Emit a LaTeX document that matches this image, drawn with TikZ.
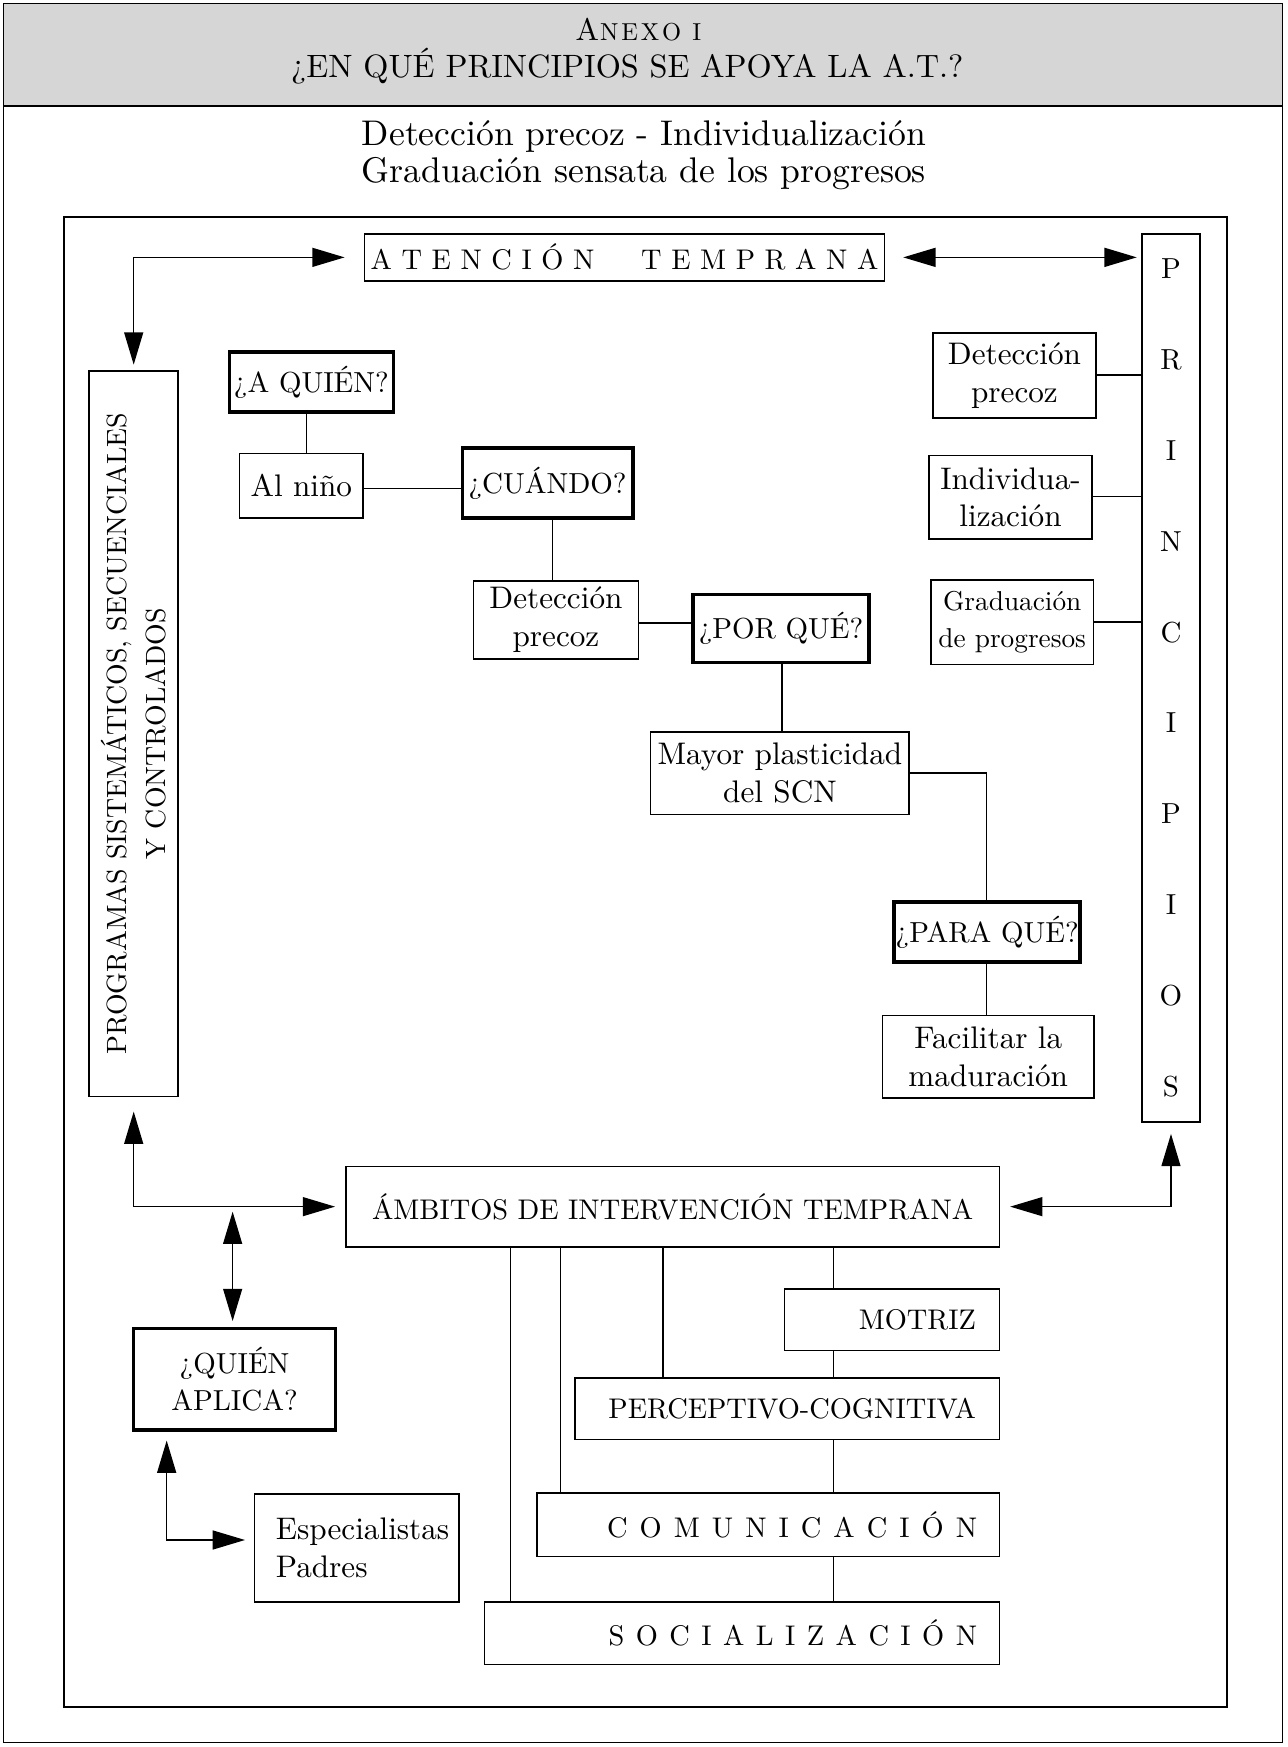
\documentclass[tikz,border=0pt]{standalone}
\usepackage{fontspec}
\setmainfont{lmroman10-regular.otf}
\usetikzlibrary{arrows.meta}
\newcommand\setfs[2]{\fontsize{#1}{#2}\selectfont}
\newcommand\mixf{\setfs{28}{34}}
\newcommand\capf{\setfs{25.5}{33}}
\newcommand\qf{\setfs{26}{33}}
\begin{document}
\begin{tikzpicture}[x=1pt,y=-1pt,
  box/.style={draw, line width=1.4pt, inner sep=0pt, align=center, font=\mixf},
  qbox/.style={box, line width=3.2pt, font=\qf},
  capbox/.style={box, font=\capf},
  conn/.style={line width=1.4pt},
  arr/.style={line width=1.4pt, {Triangle[length=29pt,width=17pt]}-{Triangle[length=29pt,width=17pt]}},
  frame/.style={line width=1.5pt}
  ]
\useasboundingbox (0,0) rectangle (1156,1568);
% header and frames
\fill[black!16] (3,3) rectangle (1151,95);
\draw[frame] (3,3) rectangle (1151,1564);
\draw[line width=2pt] (3,95) -- (1151,95);
\draw[frame] (57.5,195) rectangle (1101,1532);
\node[inner sep=0, anchor=base] (anexo) at (573,36)
  {\setfs{28}{28}A\kern1pt\setfs{22}{22}N\kern2.5pt E\kern2.5pt X\kern2.5pt O\hspace{10pt}I};
\node[inner sep=0, anchor=base] (title) at (563,70) {\setfs{29}{29}¿EN QUÉ PRINCIPIOS SE APOYA LA A.T.?};
\node[inner sep=0, anchor=base] (sub1) at (578,131) {\setfs{32}{32}Detección precoz - Individualización};
\node[inner sep=0, anchor=base] (sub2) at (578,164) {\setfs{32}{32}Graduación sensata de los progresos};
% top box
\node[capbox, minimum width=467pt, minimum height=42pt] (aten) at (560.5,231)
  {\def\g{\hspace{8.6pt}}A\g T\g E\g N\g C\g I\g Ó\g N\hspace{42pt}T\g E\g M\g P\g R\g A\g N\g A};
% principios column
\node[box, minimum width=52pt, minimum height=797pt, font=\setfs{26}{81.5}] (prin) at (1051,608.5)
  {P\\R\\I\\N\\C\\I\\P\\I\\O\\S};
% programas column
\node[box, minimum width=80pt, minimum height=651pt] (prog) at (120,658.5) {};
\node[rotate=90, align=center, inner sep=0, font=\setfs{25}{35}] (progt) at (prog.center)
  {PROGRAMAS SISTEMÁTICOS, SECUENCIALES\\Y CONTROLADOS};
% chain of questions
\node[qbox, minimum width=147pt, minimum height=54pt] (aquien) at (279.5,343) {¿A QUIÉN?};
\node[box, minimum width=111pt, minimum height=58pt] (nino) at (270.5,436) {Al niño};
\node[qbox, minimum width=153pt, minimum height=63pt] (cuando) at (491.5,433.5) {¿CUÁNDO?};
\node[box, minimum width=148pt, minimum height=70pt] (det) at (499,556.5) {Detección\\precoz};
\node[qbox, minimum width=158pt, minimum height=61pt] (porque) at (701,564) {¿POR QUÉ?};
\node[box, minimum width=232pt, minimum height=74pt] (mayor) at (700,694) {Mayor plasticidad\\del SCN};
\node[qbox, minimum width=167pt, minimum height=54pt] (para) at (886,836.5) {¿PARA QUÉ?};
\node[box, minimum width=190pt, minimum height=74pt] (facil) at (887,948.4) {Facilitar la\\maduración};
% principles boxes
\node[box, minimum width=146pt, minimum height=76pt] (rdet) at (910.5,337) {Detección\\precoz};
\node[box, minimum width=146pt, minimum height=75pt] (rind) at (907,446.4) {Individua-\\lización};
\node[box, minimum width=146pt, minimum height=76pt, font=\setfs{24.5}{34}] (rgrad) at (908.5,558.4) {Graduación\\de progresos};
% ambitos
\node[capbox, minimum width=586.5pt, minimum height=72pt] (amb) at (603.7,1083) {ÁMBITOS DE INTERVENCIÓN TEMPRANA};
\node[capbox, minimum width=193pt, minimum height=55pt, text width=151pt, align=right] (mot) at (800.5,1184.5) {MOTRIZ};
\node[capbox, minimum width=381pt, minimum height=55pt, text width=339pt, align=right] (perc) at (706.5,1264.5) {PERCEPTIVO-COGNITIVA};
\node[capbox, minimum width=415pt, minimum height=57pt, text width=375pt, align=right] (com) at (689.5,1368.5)
  {\def\g{\hspace{10.8pt}}C\g O\g M\g U\g N\g I\g C\g A\g C\g I\g Ó\g N};
\node[capbox, minimum width=462pt, minimum height=56pt, text width=422pt, align=right] (soc) at (666,1466)
  {\def\g{\hspace{10.3pt}}S\g O\g C\g I\g A\g L\g I\g Z\g A\g C\g I\g Ó\g N};
% quien aplica
\node[qbox, minimum width=181pt, minimum height=91pt] (qapl) at (210.5,1237.8) {¿QUIÉN\\APLICA?};
\node[box, minimum width=183.4pt, minimum height=97pt] (esp) at (320.3,1389.5) {};
\node[anchor=west, align=left, inner sep=0, font=\mixf] (espt) at ([xshift=19.5pt]esp.west) {Especialistas\\Padres};
% helper coordinates
\coordinate (c1) at (275,0);
\coordinate (c2) at (496,0);
\coordinate (c3) at (702,0);
\coordinate (c4) at (885.5,0);
\coordinate (r1) at (0,438.6);
\coordinate (r2) at (0,559.4);
\coordinate (r3) at (0,694);
\coordinate (r4) at (0,336.6);
\coordinate (r5) at (0,445.8);
\coordinate (r6) at (0,558.5);
\coordinate (x1) at (458.3,0);
\coordinate (x2) at (503.2,0);
\coordinate (x3) at (595.2,0);
\coordinate (x4) at (748,0);
\coordinate (q1) at (208.8,0);
\coordinate (q2) at (149.6,1382.2);
% plain connectors
\draw[conn] (c1 |- aquien.south) -- (c1 |- nino.north);
\draw[conn] (r1 -| nino.east) -- (r1 -| cuando.west);
\draw[conn] (c2 |- cuando.south) -- (c2 |- det.north);
\draw[conn] (r2 -| det.east) -- (r2 -| porque.west);
\draw[conn] (c3 |- porque.south) -- (c3 |- mayor.north);
\draw[conn] (r3 -| mayor.east) -| (c4 |- para.north);
\draw[conn] (c4 |- para.south) -- (c4 |- facil.north);
\draw[conn] (r4 -| rdet.east) -- (r4 -| prin.west);
\draw[conn] (r5 -| rind.east) -- (r5 -| prin.west);
\draw[conn] (r6 -| rgrad.east) -- (r6 -| prin.west);
\draw[conn] (x1 |- amb.south) -- (x1 |- soc.north);
\draw[conn] (x2 |- amb.south) -- (x2 |- com.north);
\draw[conn] (x3 |- amb.south) -- (x3 |- perc.north);
\draw[conn] (x4 |- amb.south) -- (x4 |- mot.north);
\draw[conn] (x4 |- mot.south) -- (x4 |- perc.north);
\draw[conn] (x4 |- perc.south) -- (x4 |- com.north);
\draw[conn] (x4 |- com.south) -- (x4 |- soc.north);
% arrows
\draw[arr, shorten <=5pt, shorten >=17pt] (prog.north) |- (aten.west);
\draw[arr, shorten <=16pt, shorten >=4pt] (aten.east) -- (aten.east -| prin.west);
\draw[arr, shorten <=13pt, shorten >=9pt] (prog.south) |- (amb.west);
\draw[arr, shorten <=9pt, shorten >=10pt] (amb.east) -| (prin.south);
\draw[arr, shorten <=4.5pt, shorten >=5pt] (q1 |- amb.west) -- (q1 |- qapl.north);
\draw[arr, shorten <=8pt, shorten >=8pt] (q2 |- qapl.south) |- (q2 -| esp.west);
\end{tikzpicture}
\end{document}
